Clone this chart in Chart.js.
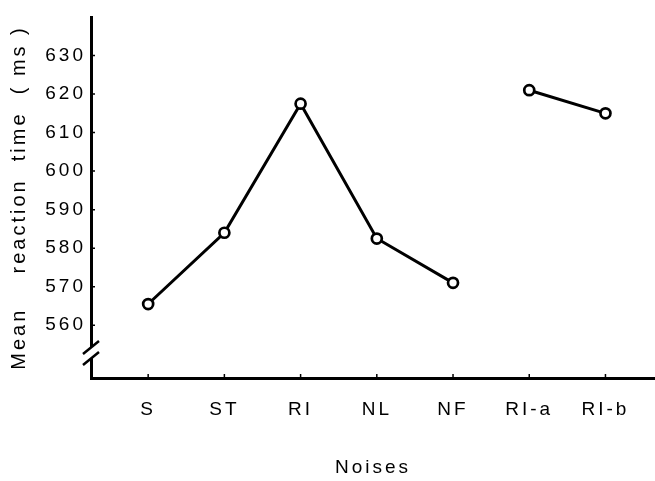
<!DOCTYPE html>
<html>
<head>
<meta charset="utf-8">
<script src="https://cdn.jsdelivr.net/npm/chart.js@4"></script>
<style>
  html, body { margin: 0; padding: 0; background: #fff; overflow: hidden; }
  canvas { display: block; }
</style>
</head>
<body>
<canvas id="rtChart" width="655" height="481"></canvas>
<script>
const noises = ['S', 'ST', 'RI', 'NL', 'NF', 'RI-a', 'RI-b'];
const meanRT = [565.5, 584, 617.5, 582.5, 571, 621, 615];
// the line is broken between NF and RI-a
const lineGroup = [0, 0, 0, 0, 0, 1, 1];
const yTicks = [560, 570, 580, 590, 600, 610, 620, 630];

const FONT = "'Liberation Sans', Arial, sans-serif";

// small inward tick marks + the axis break on the y axis
const axisDecor = {
    id: 'axisDecor',
    beforeDraw(chart) {
        chart.ctx.letterSpacing = '3px';
    },
    afterDraw(chart) {
        const ctx = chart.ctx;
        const x = chart.scales.x, y = chart.scales.y;
        const left = chart.chartArea.left, bottom = chart.chartArea.bottom;
        ctx.save();
        ctx.strokeStyle = '#000';
        ctx.lineWidth = 1.5;
        ctx.beginPath();
        yTicks.forEach(v => {
            const py = y.getPixelForValue(v);
            ctx.moveTo(left, py);
            ctx.lineTo(left + 4, py);
        });
        noises.forEach((n, i) => {
            const px = x.getPixelForValue(i);
            ctx.moveTo(px, bottom);
            ctx.lineTo(px, bottom - 4);
        });
        ctx.stroke();
        // break
        ctx.fillStyle = '#fff';
        ctx.fillRect(left - 4, 347, 8, 11);
        ctx.lineWidth = 2.5;
        ctx.beginPath();
        ctx.moveTo(left - 8, 354);
        ctx.lineTo(left + 8, 341);
        ctx.moveTo(left - 8, 365);
        ctx.lineTo(left + 8, 352);
        ctx.stroke();
        ctx.restore();
    }
};

new Chart(document.getElementById('rtChart').getContext('2d'), {
    type: 'line',
    data: {
        datasets: [{
            data: meanRT.map((v, i) => ({ x: i, y: v })),
            borderColor: '#000',
            borderWidth: 3,
            pointRadius: 5,
            pointBorderWidth: 2.7,
            pointBackgroundColor: '#fff',
            pointBorderColor: '#000',
            tension: 0,
            segment: {
                borderColor: c => lineGroup[c.p0DataIndex] !== lineGroup[c.p1DataIndex] ? 'rgba(0,0,0,0)' : '#000'
            }
        }]
    },
    options: {
        responsive: false,
        animation: false,
        layout: { autoPadding: false, padding: { top: 17, right: 0, left: 0, bottom: 0 } },
        plugins: {
            legend: { display: false },
            tooltip: { enabled: false }
        },
        scales: {
            x: {
                type: 'linear',
                min: -0.75,
                max: 6.65,
                afterBuildTicks: s => { s.ticks = noises.map((n, i) => ({ value: i })); },
                afterFit: s => {
                    s.height = 103;
                    s.paddingLeft = 0;
                    s.paddingRight = 0;
                },
                ticks: {
                    color: '#000',
                    font: { family: FONT, size: 19 },
                    padding: 20,
                    callback: v => noises[v],
                    autoSkip: false,
                    maxRotation: 0
                },
                grid: { display: false, drawTicks: false },
                border: { color: '#000', width: 3 },
                title: {
                    display: true,
                    text: 'Noises',
                    color: '#000',
                    font: { family: FONT, size: 19 },
                    padding: { top: 0, bottom: 2 }
                }
            },
            y: {
                min: 546.3,
                max: 640,
                afterBuildTicks: s => { s.ticks = yTicks.map(v => ({ value: v })); },
                afterFit: s => { s.width = 91; },
                ticks: {
                    color: '#000',
                    font: { family: FONT, size: 19 },
                    padding: 5
                },
                grid: { display: false, drawTicks: false },
                border: { color: '#000', width: 3 },
                title: {
                    display: true,
                    text: 'Mean    reaction  time  ( ms )',
                    color: '#000',
                    font: { family: FONT, size: 20 },
                    padding: { top: 7, bottom: 0 }
                }
            }
        }
    },
    plugins: [axisDecor]
});
</script>
</body>
</html>
